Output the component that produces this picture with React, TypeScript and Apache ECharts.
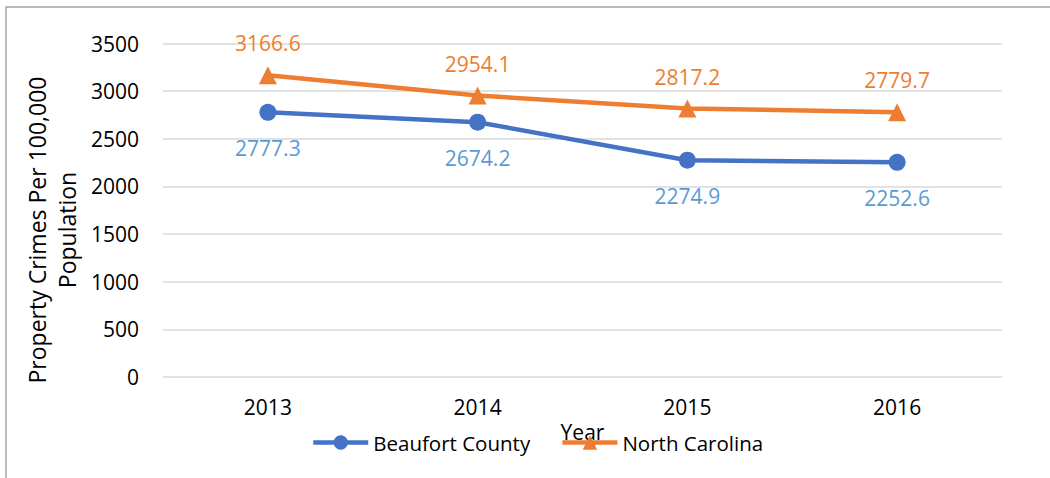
import React, { useEffect, useRef } from "react";
import * as echarts from "echarts";

const years = ["2013", "2014", "2015", "2016"];
const beaufortCounty = [2777.3, 2674.2, 2274.9, 2252.6];
const northCarolina = [3166.6, 2954.1, 2817.2, 2779.7];
const yMin = 0;
const yMax = 3500;
const yInterval = 500;

const FONT = "'Open Sans', sans-serif";

export default function App() {
  const ref = useRef<HTMLDivElement>(null);
  useEffect(() => {
    if (!ref.current) return;
    const chart = echarts.init(ref.current, undefined, { renderer: "svg" });
    chart.setOption({
      animation: false,
      backgroundColor: "#ffffff",
      textStyle: { fontFamily: FONT },
      grid: { left: 163, right: 48, top: 43.5, bottom: 101 },
      graphic: [
        {
          type: "rect",
          shape: { x: 6, y: 7, width: 1200, height: 700 },
          style: { fill: "none", stroke: "#a6a6a6", lineWidth: 1.5 },
          silent: true,
        },
        {
          type: "text",
          x: 52,
          y: 230,
          rotation: Math.PI / 2,
          style: {
            text: "Property Crimes Per 100,000\nPopulation",
            font: `23px ${FONT}`,
            fill: "#000000",
            textAlign: "center",
            textVerticalAlign: "middle",
            lineHeight: 30,
          },
        },
      ],
      legend: {
        left: 306,
        top: 427,
        itemWidth: 55,
        itemHeight: 18,
        itemGap: 30,
        lineStyle: { width: 4.5 },
        textStyle: { fontSize: 20.5, color: "#000000", fontFamily: FONT },
        data: ["Beaufort County", "North Carolina"],
      },
      xAxis: {
        type: "category",
        data: years,
        boundaryGap: true,
        name: "Year",
        nameLocation: "middle",
        nameGap: 37,
        nameTextStyle: { fontSize: 21, color: "#000000", fontFamily: FONT },
        axisLine: { show: false },
        axisTick: { show: false },
        axisLabel: { fontSize: 21, color: "#000000", margin: 19, fontFamily: FONT },
      },
      yAxis: {
        type: "value",
        min: yMin,
        max: yMax,
        interval: yInterval,
        axisLine: { show: false },
        axisTick: { show: false },
        axisLabel: {
          fontSize: 21,
          color: "#000000",
          margin: 24,
          fontFamily: FONT,
          formatter: (v: number) => String(v),
        },
        splitLine: { lineStyle: { color: "#d9d9d9", width: 1.5 } },
      },
      series: [
        {
          name: "Beaufort County",
          type: "line",
          data: beaufortCounty,
          symbol: "circle",
          symbolSize: 17,
          color: "#4472C4",
          lineStyle: { width: 4.5, color: "#4472C4" },
          itemStyle: { color: "#4472C4" },
          label: {
            show: true,
            position: "bottom",
            distance: 17,
            color: "#5B9BD5",
            fontSize: 21,
            fontFamily: FONT,
            formatter: (p: any) => Number(p.value).toFixed(1),
          },
        },
        {
          name: "North Carolina",
          type: "line",
          data: northCarolina,
          symbol: "triangle",
          symbolSize: 18,
          color: "#ED7D31",
          lineStyle: { width: 4.5, color: "#ED7D31" },
          itemStyle: { color: "#ED7D31" },
          label: {
            show: true,
            position: "top",
            distance: 12.5,
            color: "#ED7D31",
            fontSize: 21,
            fontFamily: FONT,
            formatter: (p: any) => Number(p.value).toFixed(1),
          },
        },
      ],
    });
    return () => chart.dispose();
  }, []);
  return (
    <div
      ref={ref}
      style={{ position: "fixed", left: 0, top: 0, width: 1050, height: 478, background: "#fff" }}
    />
  );
}
